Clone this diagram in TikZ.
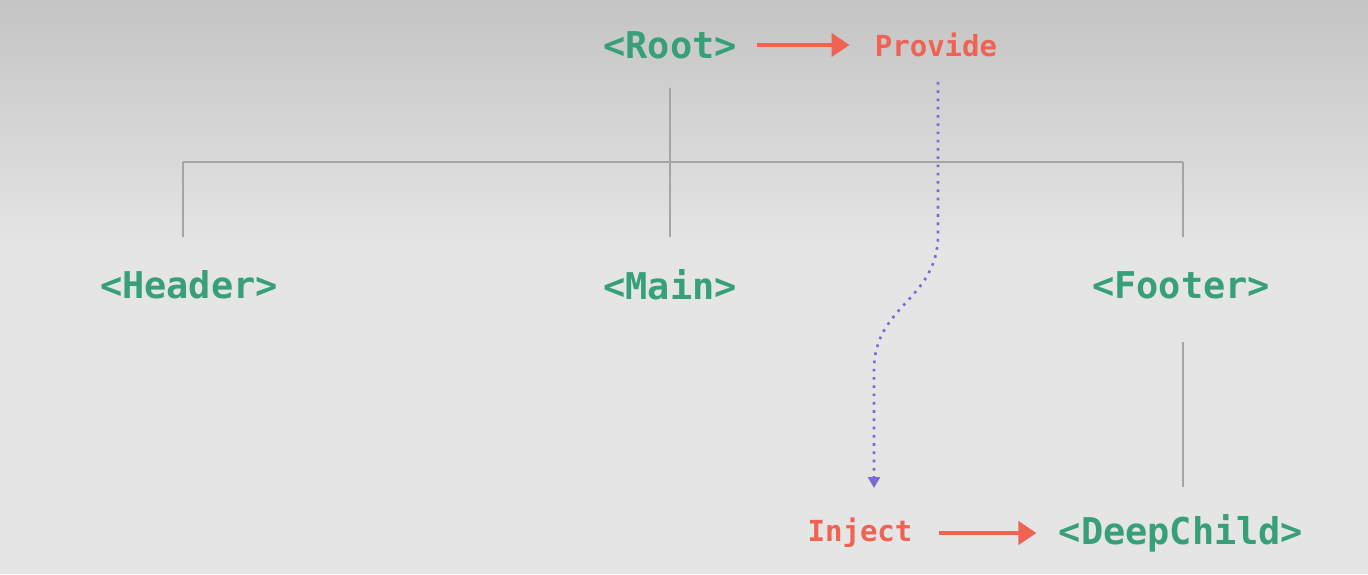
\documentclass[tikz,border=0pt]{standalone}
\usepackage{fontspec}
\setmonofont{DejaVu Sans Mono}
\usetikzlibrary{arrows.meta}
\definecolor{vuegreen}{RGB}{55,160,120}
\definecolor{coral}{RGB}{240,98,82}
\definecolor{injectpurple}{RGB}{120,108,210}
\definecolor{treegray}{RGB}{165,165,165}
\definecolor{bgtop}{RGB}{196,196,196}
\definecolor{bgmid}{RGB}{229,229,229}
\begin{document}
\begin{tikzpicture}[
  comp/.style={font=\ttfamily\bfseries\fontsize{21}{24}\selectfont,text=vuegreen,inner sep=0pt},
  api/.style={font=\ttfamily\bfseries\fontsize{16.5}{19}\selectfont,text=coral,inner sep=0pt},
  tree/.style={draw=treegray,line width=0.9pt},
  flow/.style={draw=coral,line width=2.3pt,-{Triangle[length=0.36cm,width=0.46cm]}},
  inject/.style={draw=injectpurple,line width=1.5pt,dash pattern=on 1.5pt off 3.2pt,
    -{Triangle[length=0.22cm,width=0.24cm]}}
]
\useasboundingbox (0,0) rectangle (27.36,11.48);
% background
\fill[bgmid] (0,0) rectangle (27.36,11.48);
\shade[top color=bgtop,bottom color=bgmid] (0,6.5) rectangle (27.36,11.48);

% components
\node[comp] (root) at (13.4,10.58) {<Root>};
\node[api] (provide) at (18.72,10.58) {Provide};
\node[comp] (header) at (3.78,5.78) {<Header>};
\node[comp] (main) at (13.4,5.78) {<Main>};
\node[comp] (footer) at (23.62,5.78) {<Footer>};
\node[comp] (deepchild) at (23.62,0.82) {<DeepChild>};
\node[api] (inject) at (17.2,0.82) {Inject};

% tree
\coordinate (busl) at (3.66,8.24);
\coordinate (busr) at (23.66,8.24);
\coordinate (hdtop) at ([yshift=0.96cm]header.center);
\coordinate (fttop) at ([yshift=0.96cm]footer.center);
\coordinate (ftbot) at ([yshift=-1.14cm]footer.center);
\coordinate (dctop) at ([yshift=0.92cm]deepchild.center);
\draw[tree] ([yshift=-0.86cm]root.center) -- ([yshift=0.96cm]main.center);
\draw[tree] (busl) -- (busr);
\draw[tree] (busl) -- (busl |- hdtop);
\draw[tree] (busr) -- (busr |- fttop);
\draw[tree] (busr |- ftbot) -- (busr |- dctop);

% provide / inject
\draw[flow] ([xshift=0.4cm]root.east) -- ([xshift=-0.5cm]provide.west);
\draw[flow] ([xshift=0.52cm]inject.east) -- ([xshift=-0.44cm]deepchild.west);
\coordinate (tip) at ([xshift=0.28cm,yshift=0.9cm]inject.center);
\draw[inject] ([xshift=0.04cm,yshift=-0.74cm]provide.center) -- ++(0,-3.06)
  .. controls +(0,-1.3) and +(0,1.3) .. (tip |- 0,4.08) -- (tip);
\end{tikzpicture}
\end{document}
